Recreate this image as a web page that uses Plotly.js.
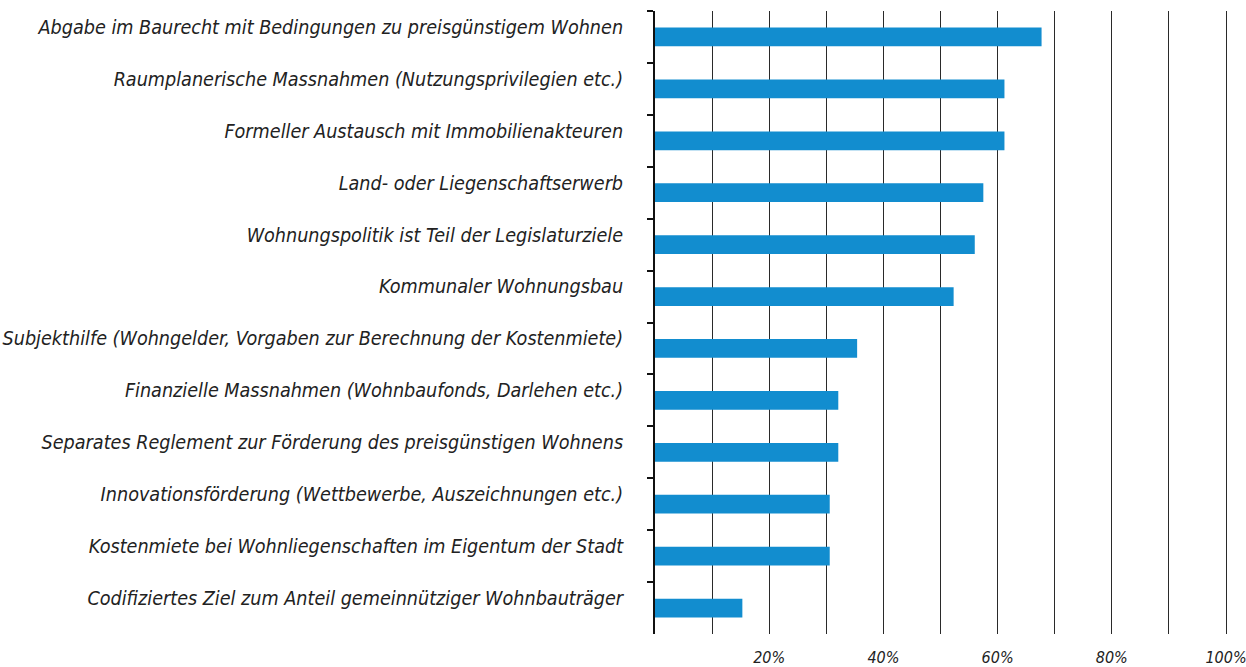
<!DOCTYPE html>
<html><head><meta charset="utf-8">
<script src="https://cdn.plot.ly/plotly-3.0.1.min.js"></script>
<style>html,body{margin:0;padding:0;background:#fff}</style>
</head><body><div id="chart" style="width:1246px;height:667px"></div>
<script>
const categories = [
  "Abgabe im Baurecht mit Bedingungen zu preisgünstigem Wohnen",
  "Raumplanerische Massnahmen (Nutzungsprivilegien etc.)",
  "Formeller Austausch mit Immobilienakteuren",
  "Land- oder Liegenschaftserwerb",
  "Wohnungspolitik ist Teil der Legislaturziele",
  "Kommunaler Wohnungsbau",
  "Subjekthilfe (Wohngelder, Vorgaben zur Berechnung der Kostenmiete)",
  "Finanzielle Massnahmen (Wohnbaufonds, Darlehen etc.)",
  "Separates Reglement zur Förderung des preisgünstigen Wohnens",
  "Innovationsförderung (Wettbewerbe, Auszeichnungen etc.)",
  "Kostenmiete bei Wohnliegenschaften im Eigentum der Stadt",
  "Codifiziertes Ziel zum Anteil gemeinnütziger Wohnbauträger"
];
const values = [0.677, 0.612, 0.612, 0.575, 0.560, 0.523, 0.354, 0.321, 0.321, 0.306, 0.306, 0.153];
const xTickVals = [0.2, 0.4, 0.6, 0.8, 1.0];
const xTickText = ["20%", "40%", "60%", "80%", "100%"];

const font = "'DejaVu Sans Condensed', 'DejaVu Sans', sans-serif";

Plotly.newPlot("chart", [{
  type: "bar",
  orientation: "h",
  y: categories,
  x: values,
  marker: {color: "#128dcf"},
  width: 0.36,
  hoverinfo: "x+y"
}], {
  width: 1246, height: 667,
  margin: {l: 655, r: 18, t: 11, b: 33},
  paper_bgcolor: "#fff", plot_bgcolor: "#fff",
  showlegend: false,
  xaxis: {
    range: [0, 1.0035],
    tickvals: xTickVals, ticktext: xTickText,
    showgrid: true, gridcolor: "#2a2a2a", gridwidth: 1,
    minor: {dtick: 0.1, tick0: 0, showgrid: true, gridcolor: "#2a2a2a", gridwidth: 1, ticks: ""},
    zeroline: false, showline: false, ticks: "",
    ticklabelstandoff: 12,
    ticklabeloverflow: "allow",
    tickfont: {family: font, size: 16, color: "#222", style: "italic"},
    fixedrange: true
  },
  yaxis: {
    type: "category",
    categoryorder: "array", categoryarray: categories,
    autorange: "reversed",
    showline: true, linecolor: "#111", linewidth: 2,
    ticks: "outside", ticklen: 6, tickwidth: 2, tickcolor: "#111",
    tickson: "boundaries",
    showgrid: false, zeroline: false,
    ticklabelstandoff: 26,
    ticklabelshift: 10,
    tickfont: {family: font, size: 19.6, color: "#222", style: "italic"},
    fixedrange: true
  }
}, {displayModeBar: false});
</script>
</body></html>
